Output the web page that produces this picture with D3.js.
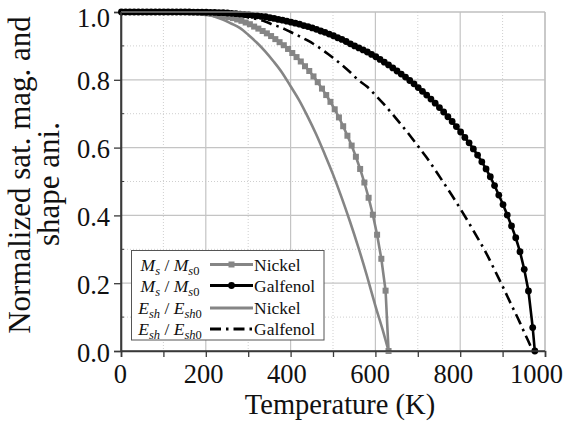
<!DOCTYPE html>
<html>
<head>
<meta charset="utf-8">
<script src="https://cdn.jsdelivr.net/npm/d3@7"></script>
<style>
  html, body { margin: 0; padding: 0; background: #fff; }
  svg { display: block; }
  .serif { font-family: "Liberation Serif", "Tinos", "Times New Roman", "DejaVu Serif", serif; }
</style>
</head>
<body>
<svg id="chart" width="569" height="424"></svg>
<script>
// ---------------- DATA ----------------
const xTicks = [0, 200, 400, 600, 800, 1000];
const xTickLabels = ["0", "200", "400", "600", "800", "1000"];
const yTicks = [0, 0.2, 0.4, 0.6, 0.8, 1.0];
const yTickLabels = ["0.0", "0.2", "0.4", "0.6", "0.8", "1.0"];
const xTitle = "Temperature (K)";
const yTitleLines = ["Normalized sat. mag. and", "shape ani."];
const seriesNames = ["Nickel", "Galfenol", "Nickel", "Galfenol"];

// Ms/Ms0 Nickel (grey squares)
const nickelMsT = [4,14,24,34,44,54,64,74,84,94,104,114,124,134,144,154,164,174,184,194,
  204,214,224,234,244,254,264,274,284,294,304,314,324,334,344,354,364,374,384,394,
  404,414,424,434,444,454,464,474,484,494,504,514,524,534,544,554,564,574,584,594,
  604,614,624,631];
const nickelMs = [1,1,1,1,1,1,1,1,1,1,1,1,1,1,1,1,0.999,0.9986,0.998,0.997,
  0.996,0.995,0.993,0.990,0.988,0.985,0.982,0.978,0.974,0.969,0.964,0.957,0.951,0.944,0.937,0.929,0.920,0.911,0.902,0.891,
  0.879,0.867,0.854,0.840,0.826,0.810,0.793,0.774,0.755,0.735,0.713,0.689,0.663,0.635,0.606,0.573,0.537,0.497,0.452,0.402,
  0.343,0.272,0.178,0];

// Ms/Ms0 Galfenol (black circles)
const galfMsT = [1,11,21,31,41,51,61,71,81,91,101,111,121,131,141,151,161,171,181,191,
  201,211,221,231,241,251,261,271,281,291,301,311,321,331,341,351,361,371,381,391,
  401,411,421,431,441,451,461,471,481,491,501,511,521,531,541,551,561,571,581,591,
  601,611,621,631,641,651,661,671,681,691,701,711,721,731,741,751,761,771,781,791,
  801,811,821,831,841,851,861,871,881,891,901,911,921,931,941,951,961,971,976];
const galfMs = [1,1,1,1,1,1,1,1,1,1,1,1,1,1,1,1,1,0.9998,0.9997,0.9995,
  0.9993,0.999,0.9987,0.998,0.998,0.997,0.996,0.995,0.994,0.993,0.992,0.990,0.989,0.987,0.986,0.983,0.981,0.978,0.976,0.973,
  0.970,0.967,0.964,0.960,0.957,0.953,0.949,0.944,0.940,0.935,0.930,0.924,0.919,0.913,0.906,0.900,0.894,0.888,0.882,0.875,
  0.868,0.860,0.852,0.844,0.835,0.826,0.817,0.808,0.798,0.788,0.777,0.766,0.755,0.743,0.731,0.718,0.705,0.691,0.677,0.662,
  0.646,0.630,0.614,0.596,0.578,0.558,0.537,0.514,0.488,0.460,0.432,0.401,0.369,0.334,0.293,0.241,0.177,0.069,0];

// Esh/Esh0 Nickel (grey solid line)
const nickelEshT = [0,20,40,60,80,100,120,140,160,180,200,220,240,260,280,300,320,340,360,380,
  400,420,440,460,480,500,520,540,560,580,600,620,631];
const nickelEsh = [1,1,1,1,1,1,1,1,1,0.996,0.993,0.987,0.978,0.966,0.953,0.933,0.910,0.884,0.854,0.821,
  0.781,0.740,0.692,0.640,0.582,0.521,0.454,0.382,0.305,0.222,0.133,0.050,0];

// Esh/Esh0 Galfenol (black dash-dot line)
const galfEshT = [0,20,40,60,80,100,120,140,160,180,200,220,240,260,280,300,320,340,360,380,
  400,420,440,460,480,500,520,540,560,580,600,620,640,660,680,700,720,740,760,780,
  800,820,840,860,880,900,920,940,950,960,970,976];
const galfEsh = [1,1,1,1,1,1,1,1,1,1,0.999,0.997,0.996,0.993,0.989,0.984,0.979,0.972,0.962,0.953,
  0.941,0.929,0.916,0.901,0.884,0.865,0.845,0.823,0.799,0.780,0.755,0.728,0.699,0.669,0.638,0.605,0.572,0.536,0.498,0.460,
  0.420,0.379,0.336,0.292,0.242,0.191,0.138,0.086,0.058,0.031,0.005,0];

// ---------------- DRAWING ----------------
const svg = d3.select("#chart");
svg.append("rect").attr("width", 569).attr("height", 424).attr("fill", "#fff");

const L = 121, R = 545, T = 12, B = 351;
const x = d3.scaleLinear().domain([0, 1000]).range([L, R]);
const y = d3.scaleLinear().domain([0, 1]).range([B, T]);
// tick labels in the reference are laid out slightly narrower than the ticks
const xLab = d3.scaleLinear().domain([0, 1000]).range([120.3, 536.5]);
const grey = "#858585";

// minor grid (dotted)
const g = svg.append("g");
g.selectAll(".mgx").data(d3.range(100, 1000, 200)).join("line")
  .attr("x1", d => x(d)).attr("x2", d => x(d)).attr("y1", T).attr("y2", B)
  .attr("stroke", "#cfcfcf").attr("stroke-width", 1).attr("stroke-dasharray", "1,2");
g.selectAll(".mgy").data([0.1, 0.3, 0.5, 0.7, 0.9]).join("line")
  .attr("y1", d => y(d)).attr("y2", d => y(d)).attr("x1", L).attr("x2", R)
  .attr("stroke", "#cfcfcf").attr("stroke-width", 1).attr("stroke-dasharray", "1,2");
// major grid
g.selectAll(".Mgx").data(xTicks.slice(1)).join("line")
  .attr("x1", d => x(d)).attr("x2", d => x(d)).attr("y1", T).attr("y2", B)
  .attr("stroke", "#c4c4c4").attr("stroke-width", 1.2);
g.selectAll(".Mgy").data(yTicks.slice(1)).join("line")
  .attr("y1", d => y(d)).attr("y2", d => y(d)).attr("x1", L).attr("x2", R)
  .attr("stroke", "#c4c4c4").attr("stroke-width", 1.2);

// axes
const xAxis = d3.axisBottom(x).tickValues(d3.range(0, 1001, 100)).tickSize(6).tickFormat("");
const yAxis = d3.axisLeft(y).tickValues(yTicks).tickSize(7).tickFormat("");
const gx = svg.append("g").attr("transform", `translate(0,${B})`).call(xAxis);
const gy = svg.append("g").attr("transform", `translate(${L},0)`).call(yAxis);
[gx, gy].forEach(a => {
  a.select(".domain").attr("stroke", "#3a3a3a").attr("stroke-width", 1.6);
  a.selectAll(".tick line").attr("stroke", "#3a3a3a").attr("stroke-width", 1.3);
});
// minor y ticks (inward)
svg.append("g").selectAll("line").data([0.1, 0.3, 0.5, 0.7, 0.9]).join("line")
  .attr("x1", L).attr("x2", L + 3).attr("y1", d => y(d)).attr("y2", d => y(d))
  .attr("stroke", "#3a3a3a").attr("stroke-width", 1);

// tick labels
svg.append("g").selectAll("text").data(xTicks).join("text").attr("class", "serif")
  .attr("x", d => xLab(d)).attr("y", 383)
  .attr("text-anchor", "middle").attr("font-size", 26.5)
  .attr("fill", "#111").text((d, i) => xTickLabels[i]);
svg.append("g").selectAll("text").data(yTicks).join("text").attr("class", "serif")
  .attr("x", 110).attr("y", d => y(d) + (d === 1 ? 14.5 : 10.5))
  .attr("text-anchor", "end").attr("font-size", 26.5)
  .attr("fill", "#111").text((d, i) => yTickLabels[i]);

// axis titles
svg.append("text").attr("class", "serif").attr("x", 340).attr("y", 413.5).attr("text-anchor", "middle")
  .attr("font-size", 28.5).attr("fill", "#111").text(xTitle);
const yt = [[30, 175], [59, 184]];
yTitleLines.forEach((s, i) => {
  svg.append("text").attr("class", "serif").attr("transform", `translate(${yt[i][0]},${yt[i][1]}) rotate(-90)`)
    .attr("text-anchor", "middle").attr("font-size", 31)
    .attr("fill", "#111").text(s);
});

// curves
const lineGen = (xs) => d3.line().x((d, i) => x(xs[i])).y(d => y(d));
const plot = svg.append("g");
plot.append("path").datum(nickelEsh).attr("d", lineGen(nickelEshT).curve(d3.curveMonotoneX))
  .attr("fill", "none").attr("stroke", grey).attr("stroke-width", 2.6);
plot.append("path").datum(galfEsh).attr("d", lineGen(galfEshT).curve(d3.curveMonotoneX))
  .attr("fill", "none").attr("stroke", "#000").attr("stroke-width", 2.6)
  .attr("stroke-dasharray", "11,5,2.5,5");
plot.append("path").datum(nickelMs).attr("d", lineGen(nickelMsT))
  .attr("fill", "none").attr("stroke", grey).attr("stroke-width", 2.6);
plot.append("g").selectAll("rect").data(nickelMs).join("rect")
  .attr("x", (d, i) => x(nickelMsT[i]) - 3).attr("y", d => y(d) - 3)
  .attr("width", 6).attr("height", 6).attr("fill", grey);
plot.append("path").datum(galfMs).attr("d", lineGen(galfMsT))
  .attr("fill", "none").attr("stroke", "#000").attr("stroke-width", 2.6);
plot.append("g").selectAll("circle").data(galfMs).join("circle")
  .attr("cx", (d, i) => x(galfMsT[i])).attr("cy", d => y(d)).attr("r", 3.4).attr("fill", "#000");

// frame top/right
svg.append("line").attr("x1", L).attr("x2", R).attr("y1", T).attr("y2", T).attr("stroke", "#bdbdbd").attr("stroke-width", 1.2);
svg.append("line").attr("x1", R).attr("x2", R).attr("y1", T).attr("y2", B).attr("stroke", "#bdbdbd").attr("stroke-width", 1.2);
// re-draw left/bottom axis lines on top
svg.append("line").attr("x1", L).attr("x2", L).attr("y1", T).attr("y2", B).attr("stroke", "#3a3a3a").attr("stroke-width", 1.6);
svg.append("line").attr("x1", L).attr("x2", R).attr("y1", B).attr("y2", B).attr("stroke", "#3a3a3a").attr("stroke-width", 1.6);

// legend
const lg = svg.append("g");
lg.append("rect").attr("x", 131.5).attr("y", 250.5).attr("width", 192.5).attr("height", 89.5)
  .attr("fill", "#fff").attr("stroke", "#555").attr("stroke-width", 1);
const rows = [264.5, 285.5, 308, 329];
const labels = [["M", "s", "M", "s", "0"], ["M", "s", "M", "s", "0"], ["E", "sh", "E", "sh", "0"], ["E", "sh", "E", "sh", "0"]];
labels.forEach((lab, i) => {
  const t = lg.append("text").attr("class", "serif").attr("x", 170).attr("y", rows[i] + 6).attr("text-anchor", "middle")
    .attr("font-size", 17.5).attr("fill", "#111");
  t.append("tspan").attr("font-style", "italic").text(lab[0]);
  t.append("tspan").attr("font-style", "italic").attr("font-size", 12.5).attr("dy", 4).text(lab[1]);
  t.append("tspan").attr("dy", -4).text(" / ");
  t.append("tspan").attr("font-style", "italic").text(lab[2]);
  t.append("tspan").attr("font-style", "italic").attr("font-size", 12.5).attr("dy", 4).text(lab[3]);
  t.append("tspan").attr("font-size", 12.5).text(lab[4]);
  lg.append("text").attr("class", "serif").attr("x", 254).attr("y", rows[i] + 6)
    .attr("font-size", 17.5).attr("fill", "#111").text(seriesNames[i]);
});
const styles = [
  { c: grey, dash: null, m: "sq" },
  { c: "#000", dash: null, m: "ci" },
  { c: grey, dash: null, m: null },
  { c: "#000", dash: "11,5,2.5,5", m: null }
];
styles.forEach((s, i) => {
  lg.append("line").attr("x1", 210).attr("x2", 253).attr("y1", rows[i]).attr("y2", rows[i])
    .attr("stroke", s.c).attr("stroke-width", 2.8).attr("stroke-dasharray", s.dash);
  if (s.m === "sq") lg.append("rect").attr("x", 231.5 - 3).attr("y", rows[i] - 3).attr("width", 6).attr("height", 6).attr("fill", s.c);
  if (s.m === "ci") lg.append("circle").attr("cx", 231.5).attr("cy", rows[i]).attr("r", 3.4).attr("fill", s.c);
});
</script>
</body>
</html>
